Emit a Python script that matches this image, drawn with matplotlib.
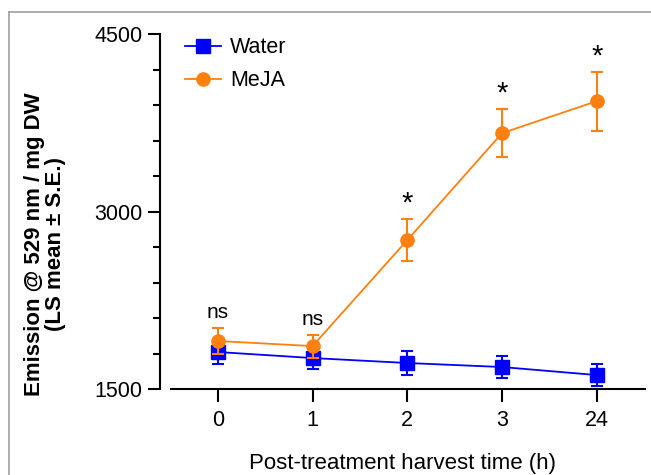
import matplotlib
matplotlib.use("Agg")
import matplotlib.pyplot as plt
from matplotlib.lines import Line2D
from matplotlib.ticker import MultipleLocator

plt.rcParams['font.family'] = ['Liberation Sans', 'DejaVu Sans']

# harvest times (categorical) and LS means +/- S.E.
times = ['0', '1', '2', '3', '24']
water_mean = [1813, 1762, 1720, 1686, 1618]
water_se = [100, 93, 105, 97, 93]
meja_mean = [1906, 1863, 2759, 3663, 3934]
meja_se = [114, 97, 177, 203, 250]
signif = ['ns', 'ns', '*', '*', '*']

fig = plt.figure(figsize=(6.51, 4.75), dpi=100)
ax = fig.add_axes([0.2458, 0.181, 0.745, 0.747])

x = list(range(len(times)))
# error bars first, then the lines with markers (these go in the legend)
ax.errorbar(x, water_mean, yerr=water_se, color='#0000ff', fmt='none',
            capsize=4, capthick=1.5, elinewidth=1.5, zorder=3)
ax.plot(x, water_mean, color='#0000ff', marker='s', ms=9.5, lw=1.3,
        label='Water', zorder=3)
ax.errorbar(x, meja_mean, yerr=meja_se, color='#ff7f0f', fmt='none',
            capsize=4, capthick=1.5, elinewidth=1.5, zorder=4)
ax.plot(x, meja_mean, color='#ff7f0f', marker='o', ms=9.5, lw=1.3,
        label='MeJA', zorder=4)

# significance marks above the MeJA error bars
for i, s in enumerate(signif):
    top = meja_mean[i] + meja_se[i]
    if s == 'ns':
        ax.text(i, top + 50, s, ha='center', va='bottom', fontsize=15)
    else:
        ax.text(i, top + 10, s, ha='center', va='bottom', fontsize=21)

ax.set_xlim(-0.61, 4.51)
ax.set_ylim(1500, 4500)
ax.set_xticks(x)
ax.set_xticklabels(times)
ax.set_yticks([1500, 3000, 4500])
ax.yaxis.set_minor_locator(MultipleLocator(300))

ax.spines['top'].set_visible(False)
ax.spines['right'].set_visible(False)
ax.spines['left'].set_linewidth(1.5)
ax.spines['bottom'].set_linewidth(1.5)
ax.spines['bottom'].set_bounds(-0.49, 4.51)

ax.tick_params(axis='both', which='major', length=9, width=1.5, labelsize=15.5)
ax.tick_params(axis='y', which='minor', length=5, width=1.5)
ax.tick_params(axis='x', which='major', pad=6)

ax.set_ylabel('Emission @ 529 nm / mg DW\n(LS mean \u00b1 S.E.)', fontsize=16,
              fontweight='bold', linespacing=1.0)
ax.yaxis.set_label_coords(-0.193, 0.408)
ax.set_xlabel('Post-treatment harvest time (h)', fontsize=16, labelpad=16)

ax.legend(loc='upper left', bbox_to_anchor=(0.012, 1.046), frameon=False,
          fontsize=15.5, handlelength=1.67, labelspacing=0.55, handletextpad=0.42)

# thin grey frame on the top and left edges of the figure
fig.add_artist(Line2D([9 / 651, 9 / 651], [0, 1 - 12 / 475], color='#a0a0a0', lw=1.2))
fig.add_artist(Line2D([9 / 651, 1], [1 - 12 / 475, 1 - 12 / 475], color='#a0a0a0', lw=1.2))

fig.savefig('out.png', dpi=100)
